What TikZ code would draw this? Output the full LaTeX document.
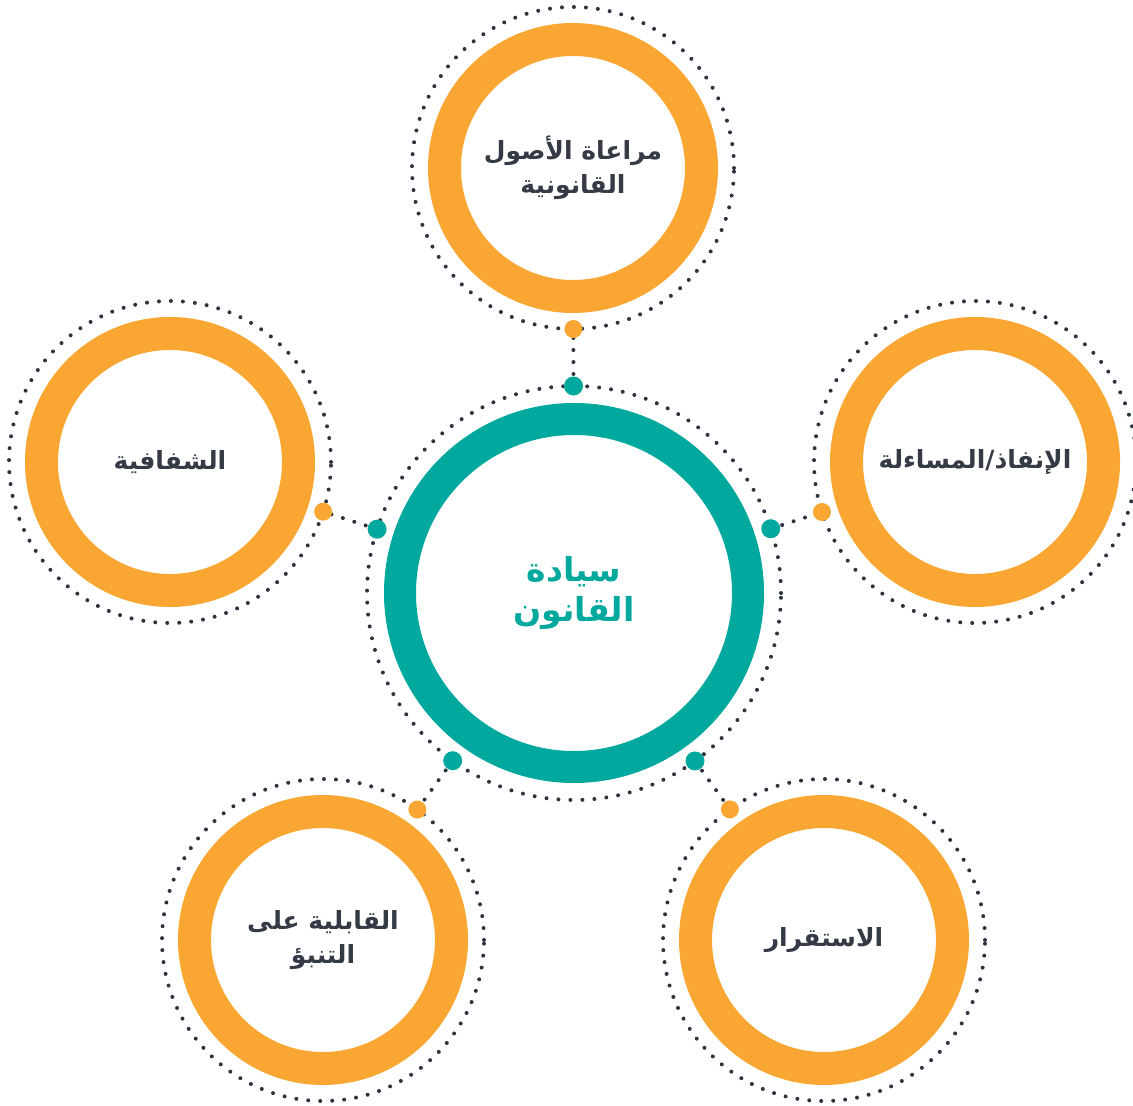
\documentclass[tikz,border=0pt]{standalone}
\usepackage{fontspec}
\newfontfamily\arabicfont[Script=Arabic]{DejaVu Sans}
\TeXXeTstate=1
\usepackage{tikz}
\usetikzlibrary{positioning,calc}
\definecolor{ringorange}{RGB}{249,166,51}
\definecolor{ringteal}{RGB}{0,168,157}
\definecolor{dotgray}{RGB}{45,52,64}
\definecolor{labelgray}{RGB}{52,58,70}
\tikzset{
  pillar/.style={circle, draw=ringorange, line width=16.5pt, minimum size=128.5pt,
    inner sep=0pt, outer sep=0pt, text=labelgray, align=center,
    font=\arabicfont\bfseries\fontsize{12.5}{17}\selectfont},
  hubring/.style={circle, draw=ringteal, line width=16pt, minimum size=174pt,
    inner sep=0pt, outer sep=0pt, text=ringteal, align=center,
    font=\arabicfont\bfseries\fontsize{16.5}{20}\selectfont},
  dotring/.style={draw=dotgray, line width=2pt, line cap=round, dash pattern=on 0pt off 6pt},
  orangedot/.style={fill=ringorange},
  tealdot/.style={fill=ringteal}
}

\begin{document}
\begin{tikzpicture}[x=0.5pt, y=-0.5pt]
    \useasboundingbox (0,0) rectangle (1133,1106);

    % Center
    \node[hubring] (hub) at (574,593) {\beginR سيادة\endR\\\beginR القانون\endR};
    \draw[dotring] (hub) circle[radius=103.5pt];

    % Pillars
    \node[pillar] (legal) at (573,168) {\beginR مراعاة الأصول\endR\\\beginR القانونية\endR};
    \node[pillar] (transp) at (170,462) {\beginR الشفافية\endR};
    \node[pillar] (account) at (975,462) {\beginR الإنفاذ/المساءلة\endR};
    \node[pillar] (predict) at (323,940) {\beginR القابلية على\endR\\\beginR التنبؤ\endR};
    \node[pillar] (stable) at (824,940) {\beginR الاستقرار\endR};

    % Dotted rings and links
    \foreach \s in {legal, transp, account, predict, stable} {
        \draw[dotring] (\s) circle[radius=80.5pt];
        \coordinate (\s-in) at ($(\s)!80.5pt!(hub)$);
        \coordinate (hub-\s) at ($(hub)!103.5pt!(\s)$);
        \draw[dotring] (hub-\s) -- (\s-in);
        \fill[orangedot] (\s-in) circle[radius=4.5pt];
        \fill[tealdot] (hub-\s) circle[radius=4.75pt];
    }
\end{tikzpicture}
\end{document}
